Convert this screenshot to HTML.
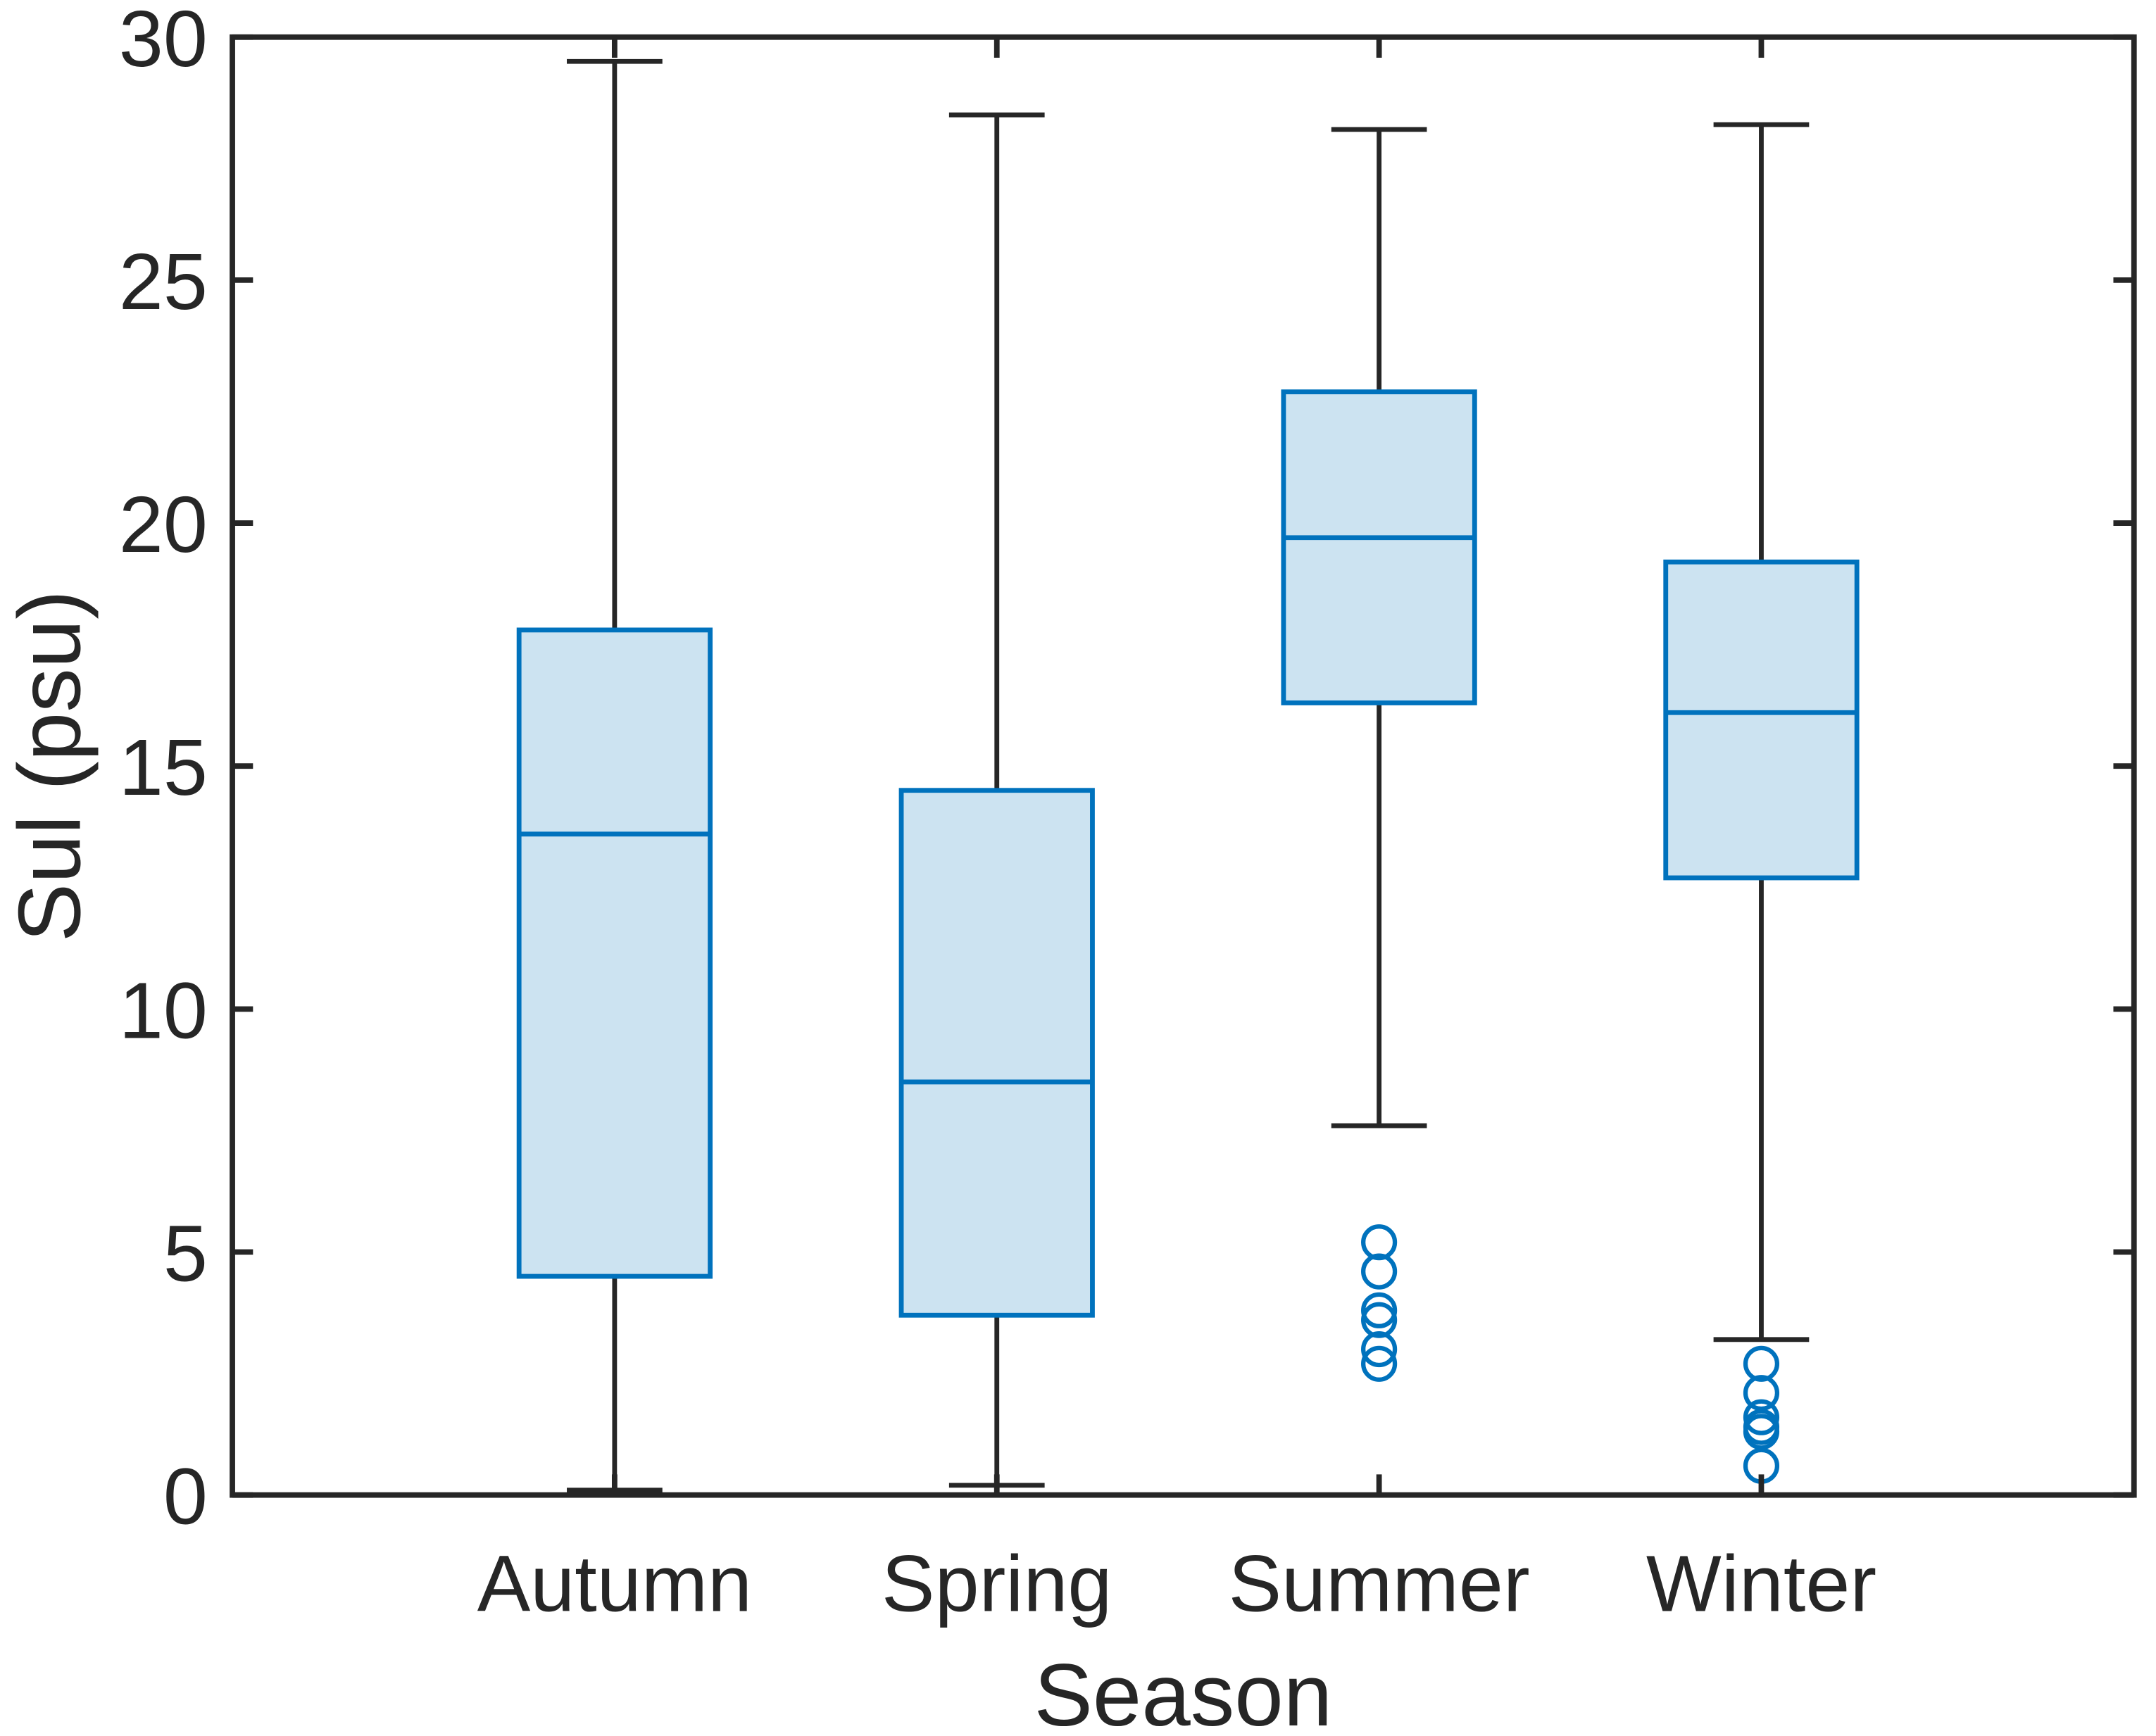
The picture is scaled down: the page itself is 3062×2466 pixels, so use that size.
<!DOCTYPE html>
<html><head><meta charset="utf-8"><style>
html,body{margin:0;padding:0;background:#fff;}
svg{display:block;font-family:"Liberation Sans",Arial,sans-serif;}
</style></head><body>
<svg id="chart" width="3062" height="2466" viewBox="0 0 1568 1262.8" xmlns="http://www.w3.org/2000/svg">
<g id="marks"></g>
<g id="axes"></g>
</svg>
<script>
const categories = ["Autumn","Spring","Summer","Winter"];
const whiskerLow = [0.1, 0.2, 7.6, 3.2];
const q1 = [4.5, 3.7, 16.3, 12.7];
const medians = [13.6, 8.5, 19.7, 16.1];
const q3 = [17.8, 14.5, 22.7, 19.2];
const whiskerHigh = [29.5, 28.4, 28.1, 28.2];
const outliers = [[], [], [5.2, 4.6, 3.8, 3.6, 3.0, 2.7], [2.7, 2.1, 1.6, 1.4, 1.3, 0.6]];
const yTicks = [0, 5, 10, 15, 20, 25, 30];

const L = 169, R = 1552, T = 27, B = 1087.5;
const xmin = 0, xmax = 4.975, ymin = 0, ymax = 30;
function xs(i) { return L + (i + 1 - xmin) / (xmax - xmin) * (R - L); }
function ys(v) { return B - (v - ymin) / (ymax - ymin) * (B - T); }
const unit = (R - L) / (xmax - xmin);

const NS = "http://www.w3.org/2000/svg";
const marks = document.getElementById("marks");
const axes = document.getElementById("axes");
function mk(tag, attrs, parent) {
  const e = document.createElementNS(NS, tag);
  for (const k in attrs) e.setAttribute(k, attrs[k]);
  parent.appendChild(e);
  return e;
}
const dark = "#262626", blue = "#0072BD";

categories.forEach((c, i) => {
  const x = xs(i), hw = unit * 0.25, cw = unit * 0.125;
  let e;
  e = mk("line", {x1: x, x2: x, y1: ys(q3[i]), y2: ys(whiskerHigh[i]), stroke: dark, "stroke-width": 3.5}, marks);
  
  
  e = mk("line", {x1: x, x2: x, y1: ys(q1[i]), y2: ys(whiskerLow[i]), stroke: dark, "stroke-width": 3.5}, marks);
  
  
  e = mk("line", {x1: x - cw, x2: x + cw, y1: ys(whiskerHigh[i]), y2: ys(whiskerHigh[i]), stroke: dark, "stroke-width": 3.5}, marks);
  
  
  e = mk("line", {x1: x - cw, x2: x + cw, y1: ys(whiskerLow[i]), y2: ys(whiskerLow[i]), stroke: dark, "stroke-width": 3.5}, marks);
  
  
  e = mk("rect", {x: x - hw, y: ys(q3[i]), width: 2 * hw, height: ys(q1[i]) - ys(q3[i]), fill: "#cce3f1", stroke: blue, "stroke-width": 3.5}, marks);
  
  
  e = mk("line", {x1: x - hw, x2: x + hw, y1: ys(medians[i]), y2: ys(medians[i]), stroke: blue, "stroke-width": 3.5}, marks);
  
  
  outliers[i].forEach(v => {
    const o = mk("circle", {cx: x, cy: ys(v), r: 11.5, fill: "none", stroke: blue, "stroke-width": 3.2}, marks);
    
    
  });
});

let f = mk("rect", {x: L, y: T, width: R - L, height: B - T, fill: "none", stroke: dark, "stroke-width": 4}, axes);



yTicks.forEach(v => {
  const y = ys(v);
  mk("line", {x1: L, x2: L + 15, y1: y, y2: y, stroke: dark, "stroke-width": 4}, axes);
  mk("line", {x1: R, x2: R - 15, y1: y, y2: y, stroke: dark, "stroke-width": 4}, axes);
  const t = mk("text", {x: L - 18, y: y + 21, "text-anchor": "end", "font-size": 58, fill: dark}, axes);
  t.textContent = v;
  
  
});
categories.forEach((c, i) => {
  const x = xs(i);
  mk("line", {x1: x, x2: x, y1: B, y2: B - 15, stroke: dark, "stroke-width": 4}, axes);
  mk("line", {x1: x, x2: x, y1: T, y2: T + 15, stroke: dark, "stroke-width": 4}, axes);
  const t = mk("text", {x: x, y: 1172, "text-anchor": "middle", "font-size": 58, fill: dark}, axes);
  t.textContent = c;
  
  
});
let xt = mk("text", {x: (L + R) / 2, y: 1255, "text-anchor": "middle", "font-size": 64, fill: dark}, axes);
xt.textContent = "Season";


let yt = mk("text", {x: 0, y: 0, "text-anchor": "middle", "font-size": 64, fill: dark, transform: "translate(58," + ((T + B) / 2) + ") rotate(-90)"}, axes);
yt.textContent = "Sul (psu)";


</script>
</body></html>
